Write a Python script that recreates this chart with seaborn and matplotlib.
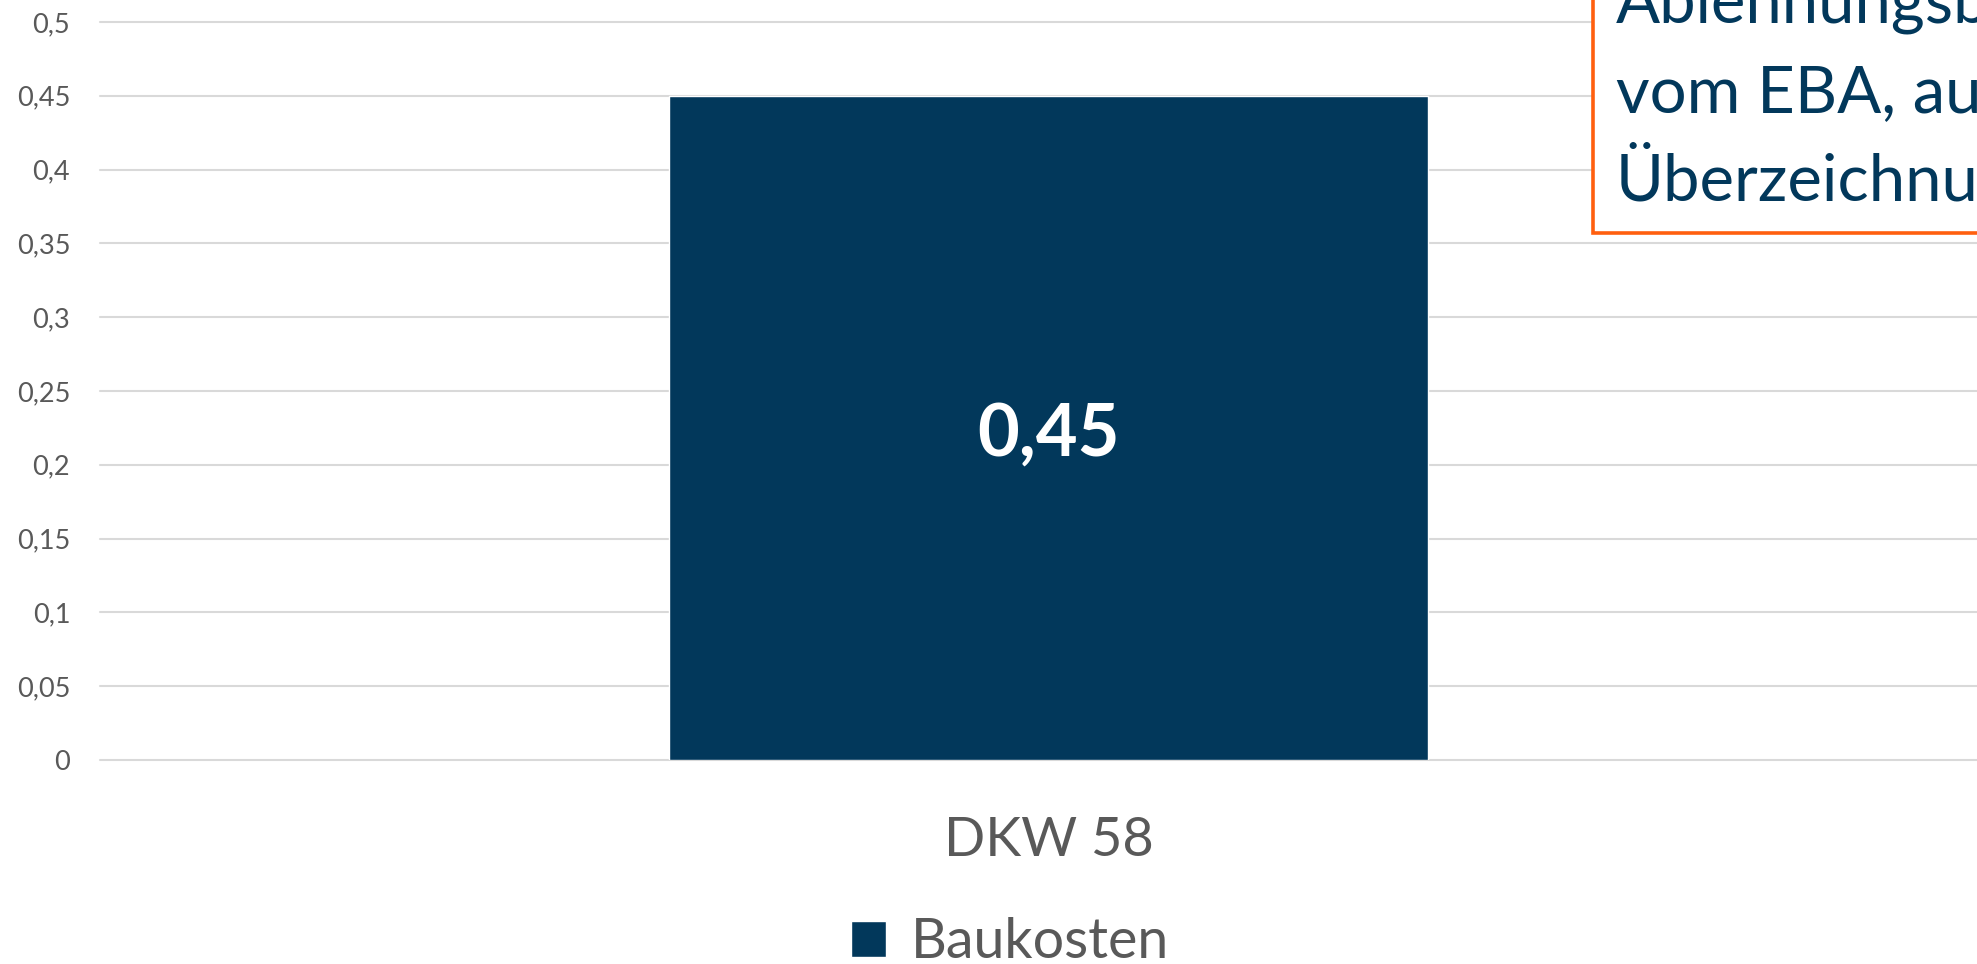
import matplotlib
matplotlib.use("Agg")
import matplotlib.pyplot as plt
import matplotlib.patches as mpatches
from matplotlib.ticker import FuncFormatter, MultipleLocator
import seaborn as sns
import pandas as pd

# ---- data ----
categories = ["DKW 58"]
series_name = "Baukosten"
values = [0.45]
value_labels = ["0,45"]
note_lines = ["Ablehnungsbescheid", "vom EBA, aufgrund", "Überzeichnung"]

NAVY = "#02385B"
ORANGE = "#FF5F0F"
GRID = "#D9D9D9"
GRAY = "#595959"

sns.set_style("white")
plt.rcParams["font.family"] = ["Lato", "DejaVu Sans"]

W, H = 1977, 964
fig = plt.figure(figsize=(W / 100, H / 100), dpi=100)
ax = fig.add_axes([100 / W, (H - 760) / H, 1897 / W, 738 / H])

df = pd.DataFrame({"Kategorie": categories, "Serie": [series_name] * len(categories), "Wert": values})
sns.barplot(data=df, x="Kategorie", y="Wert", hue="Serie", palette={series_name: NAVY},
            width=0.4, ax=ax, saturation=1, zorder=3)

ax.set_ylim(0, 0.5)
ax.set_xlim(-0.5, len(categories) - 0.5)
ax.yaxis.set_major_locator(MultipleLocator(0.05))
ax.yaxis.set_major_formatter(FuncFormatter(lambda v, p: f"{round(v, 2):g}".replace(".", ",")))
ax.grid(axis="y", color=GRID, linewidth=1.5)
ax.grid(axis="x", visible=False)
ax.set_axisbelow(True)
for gl in ax.get_ygridlines():
    gl.set_clip_on(False)
for s in ax.spines.values():
    s.set_visible(False)
ax.set_xlabel("")
ax.set_ylabel("")
ax.tick_params(axis="y", length=0, pad=21.5, labelsize=19.5, labelcolor=GRAY)
ax.tick_params(axis="x", length=0, pad=40, labelsize=39, labelcolor=GRAY)

# value labels in bar centres
for cont in ax.containers:
    anns = ax.bar_label(cont, labels=value_labels, label_type="center", color="white",
                        fontsize=52, fontweight="bold")
    for a in anns:
        a.xyann = (0, -5)

# legend
handles, labels = ax.get_legend_handles_labels()
if ax.get_legend() is not None:
    ax.get_legend().remove()
fig.legend(handles, labels, loc="center", bbox_to_anchor=(1010 / W, 0.022), frameon=False,
           fontsize=40, labelcolor=GRAY, handlelength=0.63, handleheight=0.63,
           handletextpad=0.45, borderpad=0)

# annotation box (partly outside the figure)
rect = mpatches.Rectangle((1593 / W, (H - 233) / H), 0.5, 0.5, transform=fig.transFigure,
                          facecolor="white", edgecolor=ORANGE, linewidth=2.6, zorder=5)
fig.add_artist(rect)
baselines = [22, 112, 200]
for line, yb in zip(note_lines, baselines):
    fig.text(1616 / W, (H - yb) / H, line, fontsize=47, color=NAVY, va="baseline",
             ha="left", zorder=6)

fig.savefig("out.png", dpi=100)
